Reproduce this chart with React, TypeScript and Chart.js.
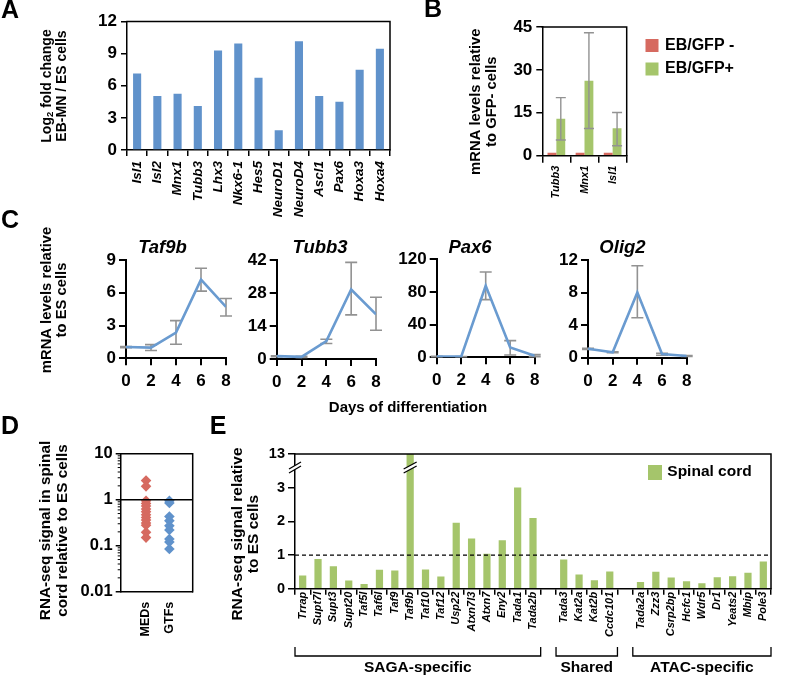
import React, { useEffect, useRef } from 'react';
import { Chart, registerables } from 'chart.js';

Chart.register(...registerables);

const W = 786;
const H = 675;
const FONT = '"Liberation Sans", Arial, Helvetica, sans-serif';
const BLUE = '#6092cb';
const LINE_BLUE = '#6a9bd0';
const RED = '#d66a60';
const GREEN = '#a5c56b';
const ERR = '#929292';

// ---------------- Panel A ----------------
const aGenes = ['Isl1', 'Isl2', 'Mnx1', 'Tubb3', 'Lhx3', 'Nkx6-1', 'Hes5', 'NeuroD1', 'NeuroD4', 'Ascl1', 'Pax6', 'Hoxa3', 'Hoxa4'];
const aLog2FC = [7.15, 5.05, 5.25, 4.1, 9.3, 9.95, 6.75, 1.85, 10.15, 5.05, 4.5, 7.5, 9.45];

// ---------------- Panel B ----------------
const bGenes = ['Tubb3', 'Mnx1', 'Isl1'];
const bSeries = ['EB/GFP -', 'EB/GFP+'];
const bGfpNeg = [1, 1, 1];
const bGfpPos = [12.9, 26.2, 9.6];
const bGfpPosLow = [5.5, 9.5, 3.5];
const bGfpPosHigh = [20.3, 43, 15.1];

// ---------------- Panel C ----------------
const cDays = [0, 2, 4, 6, 8];
const cGenes = ['Taf9b', 'Tubb3', 'Pax6', 'Olig2'];
const cTaf9b = [1.03, 0.98, 2.35, 7.2, 4.7];
const cTaf9bLow = [0.97, 0.72, 1.28, 6.15, 3.87];
const cTaf9bHigh = [1.08, 1.25, 3.45, 8.25, 5.47];
const cTubb3 = [1.2, 0.9, 7.6, 29.5, 19.0];
const cTubb3Low = [1.0, 0.7, 6.6, 18.7, 12.2];
const cTubb3High = [1.4, 1.1, 8.4, 41.0, 26.2];
const cPax6 = [1.0, 0.8, 87.5, 12.0, 2.0];
const cPax6Low = [0.8, 0.6, 70.6, 2.9, 0.8];
const cPax6High = [1.2, 1.0, 104.5, 20.4, 3.3];
const cOlig2 = [1.1, 0.66, 8.0, 0.45, 0.2];
const cOlig2Low = [1.0, 0.6, 4.9, 0.3, 0.15];
const cOlig2High = [1.15, 0.72, 11.3, 0.55, 0.25];
const cAxisMax = [9, 42, 120, 12];
const cAxisStep = [3, 14, 40, 4];

// ---------------- Panel D ----------------
const dGroups = ['MEDs', 'GTFs'];
const dMeds = [2.6, 1.95, 0.95, 0.83, 0.73, 0.63, 0.55, 0.47, 0.41, 0.36, 0.31, 0.28, 0.195, 0.15];
const dGtfs = [0.95, 0.85, 0.43, 0.35, 0.27, 0.22, 0.14, 0.12, 0.085];
const dTicks = [0.01, 0.1, 1, 10];

// ---------------- Panel E ----------------
const eGenes = ['Trrap', 'Supt7l', 'Supt3', 'Supt20', 'Taf5l', 'Taf6l', 'Taf9', 'Taf9b', 'Taf10', 'Taf12', 'Usp22', 'Atxn7l3', 'Atxn7', 'Eny2', 'Tada1', 'Tada2b', '', 'Tada3', 'Kat2a', 'Kat2b', 'Ccdc101', '', 'Tada2a', 'Zzz3', 'Csrp2bp', 'Hcfc1', 'Wdr5', 'Dr1', 'Yeats2', 'Mbip', 'Pole3'];
const eSignal = [0.39, 0.88, 0.67, 0.24, 0.14, 0.56, 0.54, 13, 0.57, 0.36, 1.96, 1.49, 1.04, 1.44, 3.04, 2.1, null, 0.87, 0.42, 0.25, 0.51, null, 0.2, 0.5, 0.33, 0.22, 0.16, 0.34, 0.37, 0.47, 0.81];
const eTickLabels = ['0', '1', '2', '3', '13'];
const eGroupNames = ['SAGA-specific', 'Shared', 'ATAC-specific'];
const eGroupFrom = [0, 17, 22];
const eGroupTo = [15, 20, 30];
const eBreakLow = 3; // axis break: values above are compressed
const eBreakTop = 13;

// ---------------- helpers ----------------
type Area = { l: number; t: number; r: number; b: number };

const fontStr = (size: number, style = 'normal') => `${style} bold ${size}px ${FONT}`;

function text(ctx: CanvasRenderingContext2D, s: string, x: number, y: number, size: number, o: any = {}) {
  ctx.save();
  ctx.font = fontStr(size, o.style || 'normal');
  ctx.fillStyle = '#000';
  ctx.textAlign = o.align || 'center';
  ctx.textBaseline = 'middle';
  ctx.translate(x, y);
  if (o.rot) ctx.rotate(o.rot);
  ctx.fillText(s, 0, 0);
  ctx.restore();
}

function rich(ctx: CanvasRenderingContext2D, segs: { t: string; size: number; dy?: number }[], x: number, y: number, rot: number) {
  ctx.save();
  ctx.translate(x, y);
  ctx.rotate(rot);
  ctx.fillStyle = '#000';
  ctx.textAlign = 'left';
  ctx.textBaseline = 'middle';
  const ws = segs.map((s) => {
    ctx.font = fontStr(s.size);
    return ctx.measureText(s.t).width;
  });
  let cx = -ws.reduce((a, b) => a + b, 0) / 2;
  segs.forEach((s, i) => {
    ctx.font = fontStr(s.size);
    ctx.fillText(s.t, cx, s.dy || 0);
    cx += ws[i];
  });
  ctx.restore();
}

const VERT = -Math.PI / 2;

function base(area: Area) {
  return {
    responsive: false,
    animation: false as const,
    events: [] as any[],
    layout: { padding: { left: 0, top: area.t, right: W - area.r, bottom: 0 } },
    plugins: { legend: { display: false }, tooltip: { enabled: false }, title: { display: false } },
  };
}
const fitY = (area: Area) => (s: any) => { s.width = area.l; };
const fitX = (area: Area) => (s: any) => { s.height = H - area.b; };
const tickGrid = (len: number, lw: number) => ({ display: true, drawOnChartArea: false, drawTicks: true, tickLength: len, color: '#000', lineWidth: lw });
const border = (lw: number) => ({ display: true, color: '#000', width: lw });
const tickFont = (size: number, style = 'normal') => ({ family: FONT, size, weight: 'bold' as const, style: style as any });

function plugin(id: string, draw: (chart: any, ctx: CanvasRenderingContext2D) => void, hook = 'afterDraw') {
  return {
    id,
    [hook]: (chart: any) => {
      const ctx = chart.ctx as CanvasRenderingContext2D;
      ctx.save();
      draw(chart, ctx);
      ctx.restore();
    },
  };
}

function boxFrame(lw: number) {
  return plugin('boxFrame', (chart, ctx) => {
    const a = chart.chartArea;
    ctx.strokeStyle = '#000';
    ctx.lineWidth = lw;
    ctx.beginPath();
    ctx.moveTo(a.left - lw / 2, a.top);
    ctx.lineTo(a.right, a.top);
    ctx.lineTo(a.right, a.bottom + lw / 2);
    ctx.stroke();
  });
}

function errBar(ctx: CanvasRenderingContext2D, x: number, yLo: number, yHi: number, cap: number, lw: number) {
  ctx.strokeStyle = ERR;
  ctx.lineWidth = lw;
  ctx.beginPath();
  ctx.moveTo(x, yLo);
  ctx.lineTo(x, yHi);
  ctx.moveTo(x - cap / 2, yLo);
  ctx.lineTo(x + cap / 2, yLo);
  ctx.moveTo(x - cap / 2, yHi);
  ctx.lineTo(x + cap / 2, yHi);
  ctx.stroke();
}

function breakMark(ctx: CanvasRenderingContext2D, x: number, y: number, hw: number) {
  const dy = 3.5;
  const g = 2;
  ctx.fillStyle = '#fff';
  ctx.beginPath();
  ctx.moveTo(x - hw, y + dy - g);
  ctx.lineTo(x + hw, y - dy - g);
  ctx.lineTo(x + hw, y - dy + g);
  ctx.lineTo(x - hw, y + dy + g);
  ctx.closePath();
  ctx.fill();
  ctx.strokeStyle = '#000';
  ctx.lineWidth = 1.3;
  ctx.beginPath();
  ctx.moveTo(x - hw, y + dy - g);
  ctx.lineTo(x + hw, y - dy - g);
  ctx.moveTo(x - hw, y + dy + g);
  ctx.lineTo(x + hw, y - dy + g);
  ctx.stroke();
}

// ---------------- chart configs ----------------
const areaA: Area = { l: 127, t: 21.5, r: 390, b: 150 };
function makeA() {
  return {
    type: 'bar',
    data: { labels: aGenes, datasets: [{ data: aLog2FC, backgroundColor: BLUE, categoryPercentage: 1, barPercentage: 0.4 }] },
    options: {
      ...base(areaA),
      scales: {
        x: {
          afterFit: fitX(areaA),
          grid: tickGrid(6, 1.5),
          border: border(1.5),
          ticks: { autoSkip: false, minRotation: 90, maxRotation: 90, padding: 5, color: '#000', font: tickFont(13.5, 'italic') },
        },
        y: {
          min: 0, max: 12,
          afterFit: fitY(areaA),
          grid: tickGrid(6, 1.5),
          border: border(1.5),
          ticks: { stepSize: 3, padding: 4, color: '#000', font: tickFont(17) },
        },
      },
    },
    plugins: [
      boxFrame(1.5),
      plugin('aText', (chart, ctx) => {
        text(ctx, 'A', 10, 11, 25);
        rich(ctx, [{ t: 'Log', size: 14 }, { t: '2', size: 9.5, dy: 4 }, { t: ' fold change', size: 14 }], 46.7, 86, VERT);
        text(ctx, 'EB-MN / ES cells', 62, 86, 14, { rot: VERT });
      }),
    ],
  };
}

const areaB: Area = { l: 542.3, t: 27, r: 626.7, b: 155.7 };
function makeB() {
  return {
    type: 'bar',
    data: {
      labels: bGenes,
      datasets: [
        { label: bSeries[0], data: bGfpNeg, backgroundColor: RED, categoryPercentage: 0.63, barPercentage: 1 },
        { label: bSeries[1], data: bGfpPos, backgroundColor: GREEN, categoryPercentage: 0.63, barPercentage: 1 },
      ],
    },
    options: {
      ...base(areaB),
      scales: {
        x: {
          afterFit: fitX(areaB),
          grid: tickGrid(7, 1.5),
          border: border(1.5),
          ticks: { autoSkip: false, minRotation: 90, maxRotation: 90, padding: 3, color: '#000', font: tickFont(11, 'italic') },
        },
        y: {
          min: 0, max: 45,
          afterFit: fitY(areaB),
          grid: tickGrid(6, 1.5),
          border: border(1.5),
          ticks: { stepSize: 15, padding: 4, color: '#000', font: tickFont(17) },
        },
      },
    },
    plugins: [
      boxFrame(1.5),
      plugin('bErr', (chart, ctx) => {
        const y = chart.scales.y;
        const meta = chart.getDatasetMeta(1);
        meta.data.forEach((bar: any, i: number) => {
          errBar(ctx, bar.x, y.getPixelForValue(bGfpPosLow[i]), y.getPixelForValue(bGfpPosHigh[i]), 10, 1.4);
        });
      }, 'afterDatasetsDraw'),
      plugin('bText', (chart, ctx) => {
        text(ctx, 'B', 433, 10.5, 25);
        text(ctx, 'mRNA levels relative', 475.7, 101.7, 14.8, { rot: VERT });
        text(ctx, 'to GFP- cells', 491.5, 101.7, 14.8, { rot: VERT });
        chart.data.datasets.forEach((ds: any, i: number) => {
          const yc = 45.5 + i * 23.5;
          ctx.fillStyle = ds.backgroundColor;
          ctx.fillRect(645.5, yc - 6.5, 13, 13);
          text(ctx, ds.label, 665, yc, 16, { align: 'left' });
        });
      }),
    ],
  };
}

const cSeries = [cTaf9b, cTubb3, cPax6, cOlig2];
const cLow = [cTaf9bLow, cTubb3Low, cPax6Low, cOlig2Low];
const cHigh = [cTaf9bHigh, cTubb3High, cPax6High, cOlig2High];
const cAreas: Area[] = [
  { l: 126, t: 260, r: 226, b: 358.3 },
  { l: 276.7, t: 260, r: 376, b: 359 },
  { l: 436.7, t: 259.3, r: 534.7, b: 357.3 },
  { l: 588, t: 260, r: 686.7, b: 357.7 },
];
const cTitleX = [162.5, 320, 470, 622.5];

function makeC(k: number) {
  const area = cAreas[k];
  return {
    type: 'line',
    data: {
      datasets: [{
        data: cDays.map((d, i) => ({ x: d, y: cSeries[k][i] })),
        borderColor: LINE_BLUE,
        borderWidth: 2.6,
        pointRadius: 0,
        tension: 0,
        fill: false,
      }],
    },
    options: {
      ...base(area),
      scales: {
        x: {
          type: 'linear', min: 0, max: 8,
          afterFit: fitX(area),
          grid: tickGrid(7, 2),
          border: border(2),
          ticks: { stepSize: 2, padding: 6, color: '#000', font: tickFont(17) },
        },
        y: {
          min: 0, max: cAxisMax[k],
          afterFit: fitY(area),
          grid: tickGrid(7, 2),
          border: border(2),
          ticks: { stepSize: cAxisStep[k], padding: 3, color: '#000', font: tickFont(17) },
        },
      },
    },
    plugins: [
      plugin('cErr' + k, (chart, ctx) => {
        const x = chart.scales.x;
        const y = chart.scales.y;
        cDays.forEach((d, i) => {
          errBar(ctx, x.getPixelForValue(d), y.getPixelForValue(cLow[k][i]), y.getPixelForValue(cHigh[k][i]), 12, 1.6);
        });
      }, 'beforeDatasetsDraw'),
      plugin('cText' + k, (chart, ctx) => {
        text(ctx, cGenes[k], cTitleX[k], 248, 18.5, { style: 'italic' });
        if (k === 0) {
          text(ctx, 'C', 10, 221, 25);
          text(ctx, 'mRNA levels relative', 46.7, 300, 14.8, { rot: VERT });
          text(ctx, 'to ES cells', 62, 300, 14.8, { rot: VERT });
          text(ctx, 'Days of differentiation', 408, 408.3, 15);
        }
      }),
    ],
  };
}

const areaD: Area = { l: 120.7, t: 453.7, r: 192.7, b: 591.7 };
function makeD() {
  return {
    type: 'scatter',
    data: {
      datasets: [
        { data: dMeds.map((v) => ({ x: dGroups.indexOf('MEDs'), y: v })), pointStyle: 'rectRot', pointRadius: 5.3, backgroundColor: RED, borderWidth: 0 },
        { data: dGtfs.map((v) => ({ x: dGroups.indexOf('GTFs'), y: v })), pointStyle: 'rectRot', pointRadius: 5.3, backgroundColor: BLUE, borderWidth: 0 },
      ],
    },
    options: {
      ...base(areaD),
      scales: {
        x: {
          type: 'linear', min: -1.086, max: 2.0,
          afterFit: fitX(areaD),
          afterBuildTicks: (s: any) => { s.ticks = dGroups.map((_, i) => ({ value: i })); },
          grid: { display: false, drawTicks: false },
          border: border(1.5),
          ticks: { autoSkip: false, minRotation: 90, maxRotation: 90, padding: 10, color: '#000', font: tickFont(12.5), callback: (v: any) => dGroups[v] },
        },
        y: {
          type: 'logarithmic', min: 0.01, max: 10,
          afterFit: fitY(areaD),
          afterBuildTicks: (s: any) => { s.ticks = dTicks.map((v) => ({ value: v })); },
          grid: tickGrid(5, 1.5),
          border: border(1.5),
          ticks: { padding: 3, color: '#000', font: tickFont(16.5), callback: (v: any) => String(v) },
        },
      },
    },
    plugins: [
      boxFrame(1.5),
      plugin('dMinor', (chart, ctx) => {
        const y = chart.scales.y;
        const a = chart.chartArea;
        ctx.strokeStyle = '#000';
        ctx.lineWidth = 1;
        ctx.beginPath();
        for (let k = 0; k < dTicks.length - 1; k++) {
          for (let m = 2; m <= 9; m++) {
            const py = y.getPixelForValue(dTicks[k] * m);
            ctx.moveTo(a.left - 3, py);
            ctx.lineTo(a.left, py);
          }
        }
        ctx.stroke();
      }),
      plugin('dOne', (chart, ctx) => {
        const a = chart.chartArea;
        const py = chart.scales.y.getPixelForValue(1);
        ctx.strokeStyle = '#000';
        ctx.lineWidth = 1.6;
        ctx.beginPath();
        ctx.moveTo(a.left, py);
        ctx.lineTo(a.right, py);
        ctx.stroke();
      }, 'afterDatasetsDraw'),
      plugin('dText', (chart, ctx) => {
        text(ctx, 'D', 10, 427.5, 25);
        text(ctx, 'RNA-seq signal in spinal', 46, 530.5, 15.3, { rot: VERT });
        text(ctx, 'cord relative to ES cells', 62.5, 530.5, 15.3, { rot: VERT });
      }),
    ],
  };
}

const areaE: Area = { l: 295, t: 454, r: 771, b: 588.7 };
const eDisplay = eSignal.map((v) => (v == null ? null : v <= eBreakLow ? v : eBreakLow + (v - eBreakLow) / (eBreakTop - eBreakLow)));
function makeE() {
  return {
    type: 'bar',
    data: { labels: eGenes, datasets: [{ label: 'Spinal cord', data: eDisplay, backgroundColor: GREEN, categoryPercentage: 1, barPercentage: 0.47 }] },
    options: {
      ...base(areaE),
      scales: {
        x: {
          afterFit: fitX(areaE),
          grid: tickGrid(6, 1.5),
          border: border(1.5),
          ticks: { autoSkip: false, minRotation: 90, maxRotation: 90, padding: -3, color: '#000', font: tickFont(11, 'italic') },
        },
        y: {
          min: 0, max: eTickLabels.length - 1,
          afterFit: fitY(areaE),
          grid: tickGrid(7, 1.5),
          border: border(1.5),
          ticks: { stepSize: 1, padding: 3, color: '#000', font: tickFont(14.5), callback: (_v: any, i: number) => eTickLabels[i] },
        },
      },
    },
    plugins: [
      boxFrame(1.5),
      plugin('eOverlay', (chart, ctx) => {
        const a = chart.chartArea;
        const y = chart.scales.y;
        const py1 = y.getPixelForValue(1);
        ctx.strokeStyle = '#000';
        ctx.lineWidth = 1.2;
        ctx.setLineDash([4, 3]);
        ctx.beginPath();
        ctx.moveTo(a.left, py1);
        ctx.lineTo(a.right, py1);
        ctx.stroke();
        ctx.setLineDash([]);
        const yb = y.getPixelForValue(eBreakLow + 0.6);
        breakMark(ctx, a.left, yb, 6);
        const big = eSignal.indexOf(eBreakTop);
        const bar = chart.getDatasetMeta(0).data[big];
        breakMark(ctx, bar.x, yb, 6.5);
      }, 'afterDatasetsDraw'),
      plugin('eText', (chart, ctx) => {
        const x = chart.scales.x;
        text(ctx, 'E', 218, 427.5, 25);
        text(ctx, 'RNA-seq signal relative', 237.5, 534, 15.5, { rot: VERT });
        text(ctx, 'to ES cells', 253.5, 534, 15.5, { rot: VERT });
        // legend
        ctx.fillStyle = GREEN;
        ctx.fillRect(648, 465, 14, 15);
        text(ctx, chart.data.datasets[0].label, 667.3, 472, 15.5, { align: 'left' });
        // group brackets
        const half = (x.getPixelForValue(1) - x.getPixelForValue(0)) / 2;
        ctx.strokeStyle = '#000';
        ctx.lineWidth = 1.3;
        eGroupNames.forEach((name, g) => {
          const x0 = x.getPixelForValue(eGroupFrom[g]) - half;
          const x1 = x.getPixelForValue(eGroupTo[g]) + half;
          ctx.beginPath();
          ctx.moveTo(x0, 647);
          ctx.lineTo(x0, 656);
          ctx.lineTo(x1, 656);
          ctx.lineTo(x1, 647);
          ctx.stroke();
          text(ctx, name, (x0 + x1) / 2, 668, 15.5);
        });
      }),
    ],
  };
}

function ChartLayer({ make }: { make: () => any }) {
  const ref = useRef<HTMLCanvasElement>(null);
  useEffect(() => {
    const chart = new Chart(ref.current as HTMLCanvasElement, make());
    return () => chart.destroy();
  }, []);
  return <canvas ref={ref} width={W} height={H} style={{ position: 'absolute', left: 0, top: 0, width: W, height: H }} />;
}

export default function App() {
  return (
    <div style={{ position: 'absolute', left: 0, top: 0, width: W, height: H, background: '#fff', overflow: 'hidden' }}>
      <ChartLayer make={makeA} />
      <ChartLayer make={makeB} />
      <ChartLayer make={() => makeC(0)} />
      <ChartLayer make={() => makeC(1)} />
      <ChartLayer make={() => makeC(2)} />
      <ChartLayer make={() => makeC(3)} />
      <ChartLayer make={makeD} />
      <ChartLayer make={makeE} />
    </div>
  );
}
